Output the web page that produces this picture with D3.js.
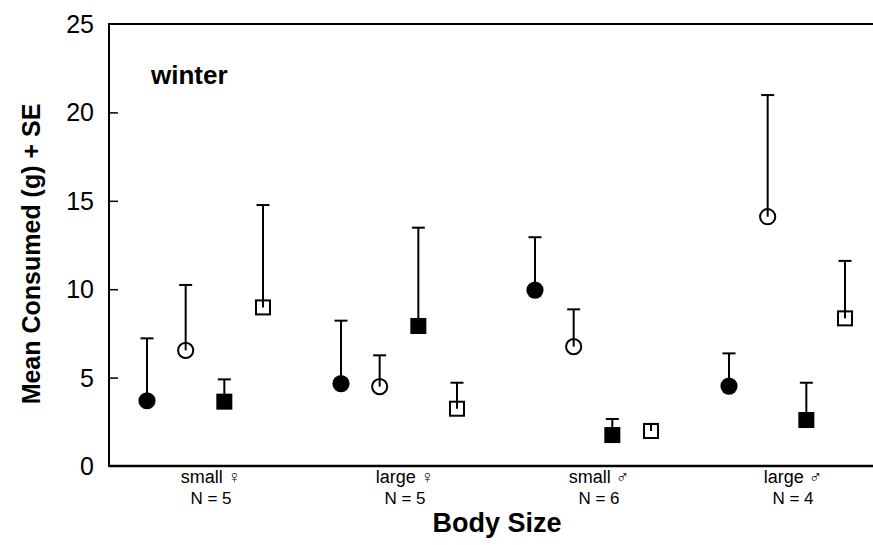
<!DOCTYPE html>
<html>
<head>
<meta charset="utf-8">
<script src="https://cdn.jsdelivr.net/npm/d3@7/dist/d3.min.js"></script>
<style>
  html, body { margin: 0; padding: 0; background: #fff; }
  svg { display: block; font-family: "Liberation Sans", Arial, sans-serif; }
  .heavy { font-weight: bold; }
</style>
</head>
<body>
<svg id="chart" width="873" height="545"></svg>
<script>
// Body-size groups and their sample sizes
const categories = ["small ♀", "large ♀", "small ♂", "large ♂"];
const sampleSizes = [5, 5, 6, 4];

// Four item types, each plotted with its own marker
const series = ["A", "B", "C", "D"];

// Mean consumed (g) per group, one array per item type
const meanA = [3.69, 4.66, 9.95, 4.52];
const meanB = [6.54, 4.49, 6.75, 14.10];
const meanC = [3.64, 7.92, 1.75, 2.60];
const meanD = [8.97, 3.24, 1.98, 8.35];

// Standard errors (upper bar only)
const seA = [3.53, 3.56, 2.99, 1.85];
const seB = [3.70, 1.77, 2.11, 6.88];
const seC = [1.26, 5.56, 0.91, 2.11];
const seD = [5.79, 1.47, 0.40, 3.25];

const yTicks = [0, 5, 10, 15, 20, 25];

const means = { A: meanA, B: meanB, C: meanC, D: meanD };
const ses = { A: seA, B: seB, C: seC, D: seD };

// marker style per item type
const markerStyle = {
  A: { shape: "circle", filled: true },
  B: { shape: "circle", filled: false },
  C: { shape: "square", filled: true },
  D: { shape: "square", filled: false }
};

const svg = d3.select("#chart");
const plotLeft = 109, plotRight = 873, plotTop = 24, plotBottom = 466;

const x = d3.scaleBand().domain(categories).range([108, 884]).paddingInner(0).paddingOuter(0);
const xOff = d3.scalePoint().domain(series).range([-58, 58]);
const y = d3.scaleLinear().domain([0, 25]).range([plotBottom, plotTop]);

// frame: top edge
svg.append("line")
  .attr("x1", plotLeft).attr("x2", plotRight).attr("y1", plotTop).attr("y2", plotTop)
  .attr("stroke", "#000").attr("stroke-width", 1.8);

// y axis with inward ticks
const yAxis = svg.append("g")
  .attr("transform", `translate(${plotLeft},0)`)
  .call(d3.axisRight(y).tickValues(yTicks.slice(1, 5)).tickSize(9).tickFormat(""));
yAxis.select(".domain").remove();
yAxis.selectAll(".tick line").attr("stroke", "#000").attr("stroke-width", 1.5);
svg.append("line")
  .attr("x1", plotLeft).attr("x2", plotLeft).attr("y1", plotTop - 1).attr("y2", plotBottom + 1)
  .attr("stroke", "#000").attr("stroke-width", 2);

// y tick labels
svg.append("g").selectAll("text")
  .data(yTicks).join("text")
  .attr("x", 94).attr("y", d => y(d))
  .attr("dy", "0.36em")
  .attr("text-anchor", "end")
  .attr("font-size", 25)
  .text(d => d);

// x axis baseline
svg.append("line")
  .attr("x1", plotLeft).attr("x2", plotRight).attr("y1", plotBottom).attr("y2", plotBottom)
  .attr("stroke", "#000").attr("stroke-width", 2.4);

// category labels
const catG = svg.append("g");
catG.selectAll("text.cat")
  .data(categories).join("text")
  .attr("class", "cat")
  .attr("x", d => x(d) + x.bandwidth() / 2 + 6)
  .attr("y", 483)
  .attr("text-anchor", "middle")
  .attr("font-size", 18)
  .text(d => d);
catG.selectAll("text.n")
  .data(categories).join("text")
  .attr("class", "n")
  .attr("x", d => x(d) + x.bandwidth() / 2 + 6)
  .attr("y", 504)
  .attr("text-anchor", "middle")
  .attr("font-size", 17)
  .text((d, i) => `N = ${sampleSizes[i]}`);

// axis titles
svg.append("text")
  .attr("class", "heavy")
  .attr("x", 497).attr("y", 532)
  .attr("text-anchor", "middle")
  .attr("font-size", 27)
  .text("Body Size");

svg.append("text")
  .attr("class", "heavy")
  .attr("transform", `translate(40,254) rotate(-90)`)
  .attr("text-anchor", "middle")
  .attr("font-size", 25)
  .text("Mean Consumed (g) + SE");

svg.append("text")
  .attr("class", "heavy")
  .attr("x", 151).attr("y", 84)
  .attr("font-size", 26)
  .text("winter");

// points with upper error bars
const points = [];
series.forEach(s => {
  categories.forEach((c, i) => {
    points.push({ s, c, mean: means[s][i], se: ses[s][i] });
  });
});

const px = d => x(d.c) + x.bandwidth() / 2 + xOff(d.s);
const capHalf = 6.5;

const g = svg.append("g");
g.selectAll("line.bar")
  .data(points).join("line")
  .attr("class", "bar")
  .attr("x1", px).attr("x2", px)
  .attr("y1", d => y(d.mean)).attr("y2", d => y(d.mean + d.se))
  .attr("stroke", "#000").attr("stroke-width", 2);
g.selectAll("line.cap")
  .data(points).join("line")
  .attr("class", "cap")
  .attr("x1", d => px(d) - capHalf).attr("x2", d => px(d) + capHalf)
  .attr("y1", d => y(d.mean + d.se)).attr("y2", d => y(d.mean + d.se))
  .attr("stroke", "#000").attr("stroke-width", 2);

g.selectAll("circle.mark")
  .data(points.filter(d => markerStyle[d.s].shape === "circle")).join("circle")
  .attr("class", "mark")
  .attr("cx", px).attr("cy", d => y(d.mean))
  .attr("r", d => markerStyle[d.s].filled ? 8.6 : 7.6)
  .attr("fill", d => markerStyle[d.s].filled ? "#000" : "none")
  .attr("stroke", "#000")
  .attr("stroke-width", d => markerStyle[d.s].filled ? 0 : 2);

g.selectAll("rect.mark")
  .data(points.filter(d => markerStyle[d.s].shape === "square")).join("rect")
  .attr("class", "mark")
  .attr("x", d => px(d) - (markerStyle[d.s].filled ? 8 : 7))
  .attr("y", d => y(d.mean) - (markerStyle[d.s].filled ? 8 : 7))
  .attr("width", d => markerStyle[d.s].filled ? 16 : 14)
  .attr("height", d => markerStyle[d.s].filled ? 16 : 14)
  .attr("fill", d => markerStyle[d.s].filled ? "#000" : "none")
  .attr("stroke", "#000")
  .attr("stroke-width", d => markerStyle[d.s].filled ? 0 : 2);
</script>
</body>
</html>
